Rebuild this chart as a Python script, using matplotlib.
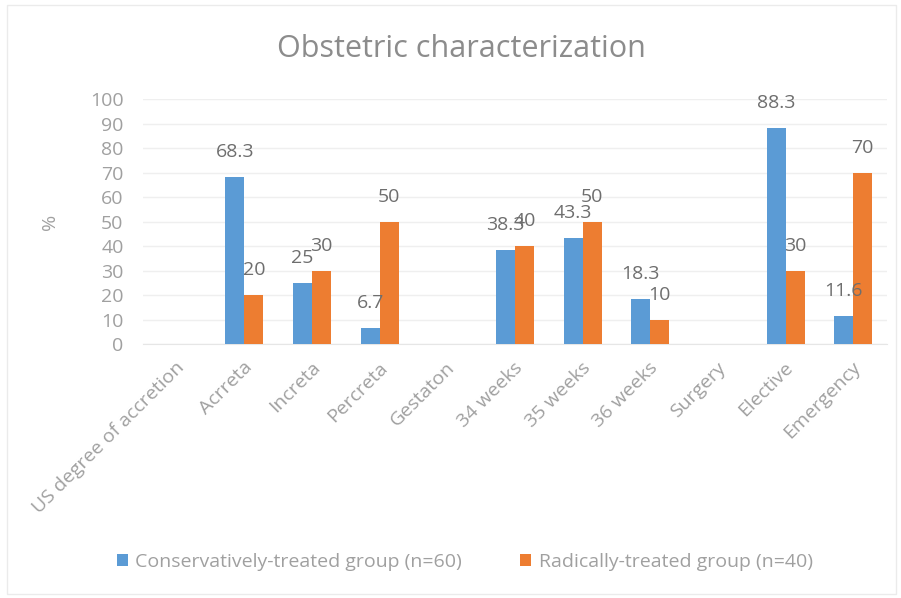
import numpy as np
import matplotlib
matplotlib.use("Agg")
import matplotlib.pyplot as plt
from matplotlib.patches import Rectangle
from matplotlib.transforms import ScaledTranslation

plt.rcParams['font.family'] = ['Open Sans', 'DejaVu Sans']

categories = ["US degree of accretion", "Acrreta", "Increta", "Percreta", "Gestaton",
              "34 weeks", "35 weeks", "36 weeks", "Surgery", "Elective", "Emergency"]
conservative = [np.nan, 68.3, 25, 6.7, np.nan, 38.3, 43.3, 18.3, np.nan, 88.3, 11.6]
radical = [np.nan, 20, 30, 50, np.nan, 40, 50, 10, np.nan, 30, 70]
conservative_labels = ["", "68.3", "25", "6.7", "", "38.3", "43.3", "18.3", "", "88.3", "11.6"]
radical_labels = ["", "20", "30", "50", "", "40", "50", "10", "", "30", "70"]
series_names = ["Conservatively-treated group (n=60)", "Radically-treated group (n=40)"]
yticks = list(range(0, 101, 10))

BLUE = "#5B9BD5"
ORANGE = "#ED7D31"
TICK_GRAY = "#A0A0A0"
LABEL_GRAY = "#6E6E6E"
FS = 14

fig = plt.figure(figsize=(9.01, 5.98), dpi=100)
fig.patches.append(Rectangle((0.008, 0.006), 0.986, 0.986, transform=fig.transFigure,
                             fill=False, edgecolor="#EBEBEB", linewidth=1.0))
ax = fig.add_axes([0.1587, 0.4247, 0.8258, 0.4097])

x = np.arange(len(categories))
w = 0.281
b1 = ax.bar(x - w / 2, conservative, w, color=BLUE, label=series_names[0], zorder=3)
b2 = ax.bar(x + w / 2, radical, w, color=ORANGE, label=series_names[1], zorder=3)

for xs, vals, labs in [(x - w / 2, conservative, conservative_labels),
                       (x + w / 2, radical, radical_labels)]:
    for xi, v, lab in zip(xs, vals, labs):
        if np.isnan(v) or not lab:
            continue
        ax.annotate(lab, (xi, v), xytext=(0, 18), textcoords="offset points",
                    ha="center", va="center", fontsize=FS, color=LABEL_GRAY, zorder=4)

ax.set_xlim(-0.5, len(categories) - 0.5)
ax.set_ylim(0, 100)
ax.set_yticks(yticks)
ax.set_yticklabels([str(t) for t in yticks], fontsize=FS, color=TICK_GRAY)
ax.yaxis.grid(True, color="#EFEFEF", linewidth=1.0, zorder=0)
ax.set_axisbelow(True)
ax.tick_params(axis="y", length=0, pad=14)
ax.tick_params(axis="x", length=0, pad=15)
for s in ["top", "right", "left"]:
    ax.spines[s].set_visible(False)
ax.spines["bottom"].set_color("#E6E6E6")

ax.set_xticks(x)
ax.set_xticklabels(categories, rotation=45, ha="right", va="center",
                   rotation_mode="anchor", fontsize=FS, color=TICK_GRAY)
shift = ScaledTranslation(5 / 100, 0, fig.dpi_scale_trans)
for lbl in ax.get_xticklabels():
    lbl.set_transform(lbl.get_transform() + shift)

ax.set_ylabel("%", fontsize=FS, color=TICK_GRAY, labelpad=22)

fig.text(0.512, 0.918, "Obstetric characterization", ha="center", va="center",
         fontsize=22, color="#8C8C8C")

fig.legend(handles=[b1, b2], labels=series_names, loc="center", bbox_to_anchor=(0.516, 0.06),
           ncol=2, frameon=False, fontsize=FS, handlelength=0.55, handleheight=0.55,
           handletextpad=0.4, columnspacing=3.0, labelcolor=TICK_GRAY)

fig.savefig("out.png", dpi=100)
